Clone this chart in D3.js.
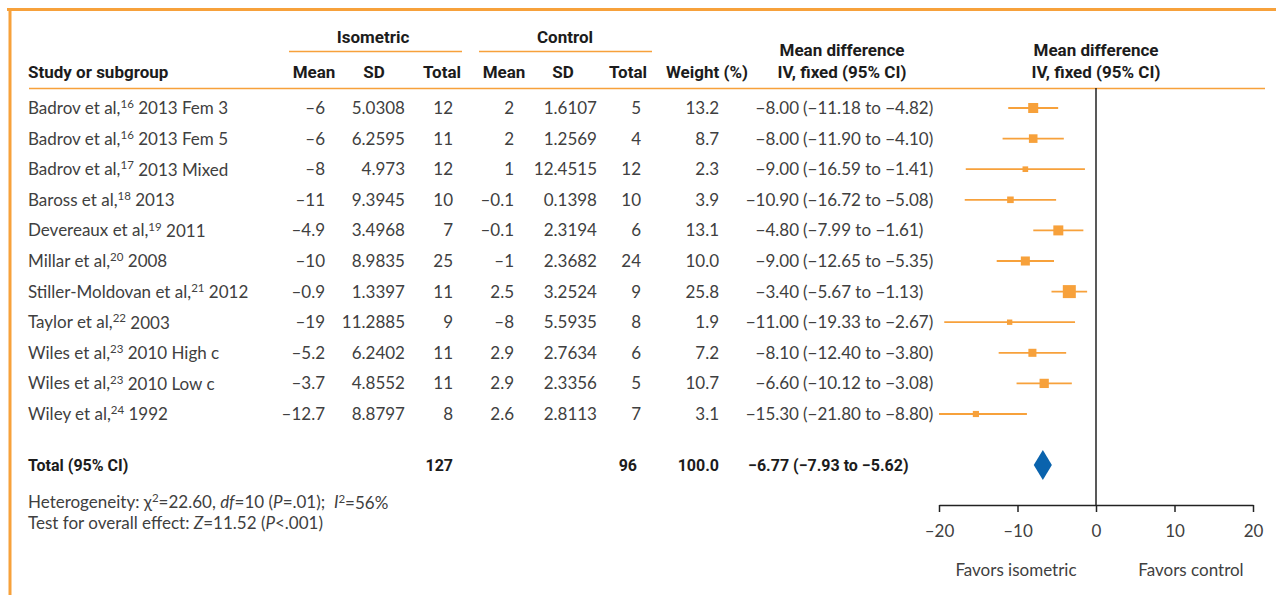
<!DOCTYPE html>
<html>
<head>
<meta charset="utf-8">
<script src="https://cdn.jsdelivr.net/npm/d3@7"></script>
<style>
  body { margin: 0; background: #fff; }
  svg { display: block; }
  text { white-space: pre; }
</style>
</head>
<body>
<svg id="chart" width="1276" height="595"></svg>
<script>
// Study rows
const authors = ["Badrov et al,", "Badrov et al,", "Badrov et al,", "Baross et al,", "Devereaux et al,",
  "Millar et al,", "Stiller-Moldovan et al,", "Taylor et al,", "Wiles et al,", "Wiles et al,", "Wiley et al,"];
const refs = ["16", "16", "17", "18", "19", "20", "21", "22", "23", "23", "24"];
const details = [" 2013 Fem 3", " 2013 Fem 5", " 2013 Mixed", " 2013", " 2011", " 2008", " 2012",
  " 2003", " 2010 High c", " 2010 Low c", " 1992"];

// Isometric group
const isoMean = [-6, -6, -8, -11, -4.9, -10, -0.9, -19, -5.2, -3.7, -12.7];
const isoSD = ["5.0308", "6.2595", "4.973", "9.3945", "3.4968", "8.9835", "1.3397", "11.2885", "6.2402", "4.8552", "8.8797"];
const isoN = [12, 11, 12, 10, 7, 25, 11, 9, 11, 11, 8];

// Control group
const ctlMean = [2, 2, 1, -0.1, -0.1, -1, 2.5, -8, 2.9, 2.9, 2.6];
const ctlSD = ["1.6107", "1.2569", "12.4515", "0.1398", "2.3194", "2.3682", "3.2524", "5.5935", "2.7634", "2.3356", "2.8113"];
const ctlN = [5, 4, 12, 10, 6, 24, 9, 8, 6, 5, 7];

// Weights and mean differences (IV, fixed, 95% CI)
const weight = [13.2, 8.7, 2.3, 3.9, 13.1, 10.0, 25.8, 1.9, 7.2, 10.7, 3.1];
const md = [-8.00, -8.00, -9.00, -10.90, -4.80, -9.00, -3.40, -11.00, -8.10, -6.60, -15.30];
const ciLow = [-11.18, -11.90, -16.59, -16.72, -7.99, -12.65, -5.67, -19.33, -12.40, -10.12, -21.80];
const ciHigh = [-4.82, -4.10, -1.41, -5.08, -1.61, -5.35, -1.13, -2.67, -3.80, -3.08, -8.80];

// Pooled estimate
const totalIsoN = 127;
const totalCtlN = 96;
const totalWeight = 100.0;
const totalMD = -6.77;
const totalLow = -7.93;
const totalHigh = -5.62;

// Axis
const axisTicks = [-20, -10, 0, 10, 20];
const axisDomain = [-20, 20];
const favorLabels = ["Favors isometric", "Favors control"];

const ORANGE = "#f7a13b";
const BLUE = "#0a63ad";
const BODY = "Lato, 'Open Sans', sans-serif";
const HEAD = "Roboto, 'DejaVu Sans', sans-serif";
const BODY_FILL = "#404040";
const HEAD_FILL = "#1c1c1c";
const BODY_SIZE = 17;

const dash = s => String(s).replace("-", "\u2013");

const svg = d3.select("#chart");

// Frame
svg.append("line").attr("x1", 7).attr("x2", 1276).attr("y1", 9.5).attr("y2", 9.5)
  .attr("stroke", ORANGE).attr("stroke-width", 3);
svg.append("line").attr("x1", 10).attr("x2", 10).attr("y1", 8).attr("y2", 595)
  .attr("stroke", ORANGE).attr("stroke-width", 3);

// Header
const head = svg.append("g").attr("font-family", HEAD).attr("font-weight", "bold")
  .attr("font-size", 17).attr("fill", HEAD_FILL);

const headText = (x, y, t, anchor) => head.append("text").attr("x", x).attr("y", y)
  .attr("dy", "0.35em").attr("text-anchor", anchor || "middle").text(t);

headText(373, 37, "Isometric");
headText(565, 37, "Control");
svg.append("line").attr("x1", 289).attr("x2", 462).attr("y1", 51.5).attr("y2", 51.5)
  .attr("stroke", ORANGE).attr("stroke-width", 1.5);
svg.append("line").attr("x1", 479).attr("x2", 652).attr("y1", 51.5).attr("y2", 51.5)
  .attr("stroke", ORANGE).attr("stroke-width", 1.5);

headText(28, 72, "Study or subgroup", "start");
headText(314, 72, "Mean");
headText(374, 72, "SD");
headText(442, 72, "Total");
headText(504, 72, "Mean");
headText(563, 72, "SD");
headText(628, 72, "Total");
headText(707, 72, "Weight (%)");
headText(842, 50, "Mean difference");
headText(842, 72, "IV, fixed (95% CI)");
headText(1096, 50, "Mean difference");
headText(1096, 72, "IV, fixed (95% CI)");

svg.append("line").attr("x1", 29).attr("x2", 1265).attr("y1", 88.5).attr("y2", 88.5)
  .attr("stroke", ORANGE).attr("stroke-width", 1.5);

// Scales
const rows = d3.range(authors.length);
const y = d3.scalePoint().domain(rows).range([108, 414]);
const x = d3.scaleLinear().domain(axisDomain).range([939, 1253]).clamp(true);
const side = d3.scaleLinear().domain([0, Math.sqrt(25.8)]).range([2.5, 13]);

// Table body
const body = svg.append("g").attr("font-family", BODY).attr("font-size", BODY_SIZE).attr("fill", BODY_FILL);

const labels = body.selectAll("text.study").data(rows).join("text")
  .attr("class", "study").attr("x", 28).attr("y", i => y(i)).attr("dy", "0.35em");
labels.append("tspan").text(i => authors[i]);
labels.append("tspan").attr("font-size", 11.5).attr("dy", "-0.5em").text(i => refs[i]);
labels.append("tspan").attr("dy", "0.36em").text(i => details[i]);

const columns = [
  { x: 325, get: i => dash(isoMean[i]) },
  { x: 405, get: i => isoSD[i] },
  { x: 453, get: i => isoN[i] },
  { x: 514, get: i => dash(ctlMean[i]) },
  { x: 597, get: i => ctlSD[i] },
  { x: 641, get: i => ctlN[i] },
  { x: 719, get: i => d3.format(".1f")(weight[i]) },
  { x: 799, get: i => dash(d3.format(".2f")(md[i])) }
];
columns.forEach(c => {
  body.append("g").selectAll("text").data(rows).join("text")
    .attr("x", c.x).attr("y", i => y(i)).attr("dy", "0.35em").attr("text-anchor", "end")
    .text(c.get);
});
body.append("g").selectAll("text").data(rows).join("text")
  .attr("x", 803).attr("y", i => y(i)).attr("dy", "0.35em")
  .text(i => "(" + dash(d3.format(".2f")(ciLow[i])) + " to " + dash(d3.format(".2f")(ciHigh[i])) + ")");

// Total row
const totY = 465;
const tot = svg.append("g").attr("font-family", HEAD).attr("font-weight", "bold")
  .attr("font-size", 16).attr("fill", HEAD_FILL);
tot.append("text").attr("x", 28).attr("y", totY).attr("dy", "0.35em").text("Total (95% CI)");
tot.append("text").attr("x", 453).attr("y", totY).attr("dy", "0.35em").attr("text-anchor", "end").text(totalIsoN);
tot.append("text").attr("x", 637).attr("y", totY).attr("dy", "0.35em").attr("text-anchor", "end").text(totalCtlN);
tot.append("text").attr("x", 719).attr("y", totY).attr("dy", "0.35em").attr("text-anchor", "end")
  .text(d3.format(".1f")(totalWeight));
tot.append("text").attr("x", 748).attr("y", totY).attr("dy", "0.35em")
  .text(dash(d3.format(".2f")(totalMD)) + " (" + dash(d3.format(".2f")(totalLow)) + " to " + dash(d3.format(".2f")(totalHigh)) + ")");

// Heterogeneity notes
const note = svg.append("g").attr("font-family", BODY).attr("font-size", BODY_SIZE).attr("fill", BODY_FILL);
const n1 = note.append("text").attr("x", 28).attr("y", 502).attr("dy", "0.35em");
n1.append("tspan").text("Heterogeneity: \u03C7");
n1.append("tspan").attr("font-size", 11.5).attr("dy", "-0.5em").text("2");
n1.append("tspan").attr("dy", "0.36em").text("=22.60, ");
n1.append("tspan").attr("font-style", "italic").text("df");
n1.append("tspan").text("=10 (");
n1.append("tspan").attr("font-style", "italic").text("P");
n1.append("tspan").text("=.01);  ");
n1.append("tspan").attr("font-style", "italic").text("I");
n1.append("tspan").attr("font-size", 11.5).attr("dy", "-0.5em").text("2");
n1.append("tspan").attr("dy", "0.36em").text("=56%");

const n2 = note.append("text").attr("x", 28).attr("y", 523).attr("dy", "0.35em");
n2.append("tspan").text("Test for overall effect: ");
n2.append("tspan").attr("font-style", "italic").text("Z");
n2.append("tspan").text("=11.52 (");
n2.append("tspan").attr("font-style", "italic").text("P");
n2.append("tspan").text("<.001)");

// Forest plot
const axisY = 505;
svg.append("line").attr("x1", x(0)).attr("x2", x(0)).attr("y1", 88).attr("y2", axisY)
  .attr("stroke", "#222").attr("stroke-width", 1.5);

const plot = svg.append("g");
plot.selectAll("line.ci").data(rows).join("line")
  .attr("class", "ci")
  .attr("x1", i => x(ciLow[i])).attr("x2", i => x(ciHigh[i]))
  .attr("y1", i => y(i)).attr("y2", i => y(i))
  .attr("stroke", ORANGE).attr("stroke-width", 1.8);
plot.selectAll("rect.est").data(rows).join("rect")
  .attr("class", "est")
  .attr("x", i => x(md[i]) - side(Math.sqrt(weight[i])) / 2)
  .attr("y", i => y(i) - side(Math.sqrt(weight[i])) / 2)
  .attr("width", i => side(Math.sqrt(weight[i])))
  .attr("height", i => side(Math.sqrt(weight[i])))
  .attr("fill", ORANGE);

// Pooled diamond
plot.append("path")
  .attr("d", d3.line()([[x(totalLow), totY], [x(totalMD), totY - 15], [x(totalHigh), totY], [x(totalMD), totY + 15]]) + "Z")
  .attr("fill", BLUE);

// Axis
const axis = svg.append("g").attr("transform", `translate(0,${axisY})`)
  .call(d3.axisBottom(x).tickValues(axisTicks).tickSize(7).tickSizeOuter(0).tickPadding(13)
    .tickFormat(d => dash(d)));
axis.select(".domain").attr("stroke", "#222").attr("stroke-width", 1.5);
axis.selectAll(".tick line").attr("stroke", "#222").attr("stroke-width", 1.5);
axis.selectAll(".tick text").attr("font-family", BODY).attr("font-size", BODY_SIZE).attr("fill", BODY_FILL);

// Direction labels
svg.append("g").attr("font-family", BODY).attr("font-size", BODY_SIZE).attr("fill", BODY_FILL)
  .selectAll("text").data(favorLabels).join("text")
  .attr("x", (d, i) => [1016, 1191][i]).attr("y", 570).attr("dy", "0.35em")
  .attr("text-anchor", "middle").text(d => d);
</script>
</body>
</html>
